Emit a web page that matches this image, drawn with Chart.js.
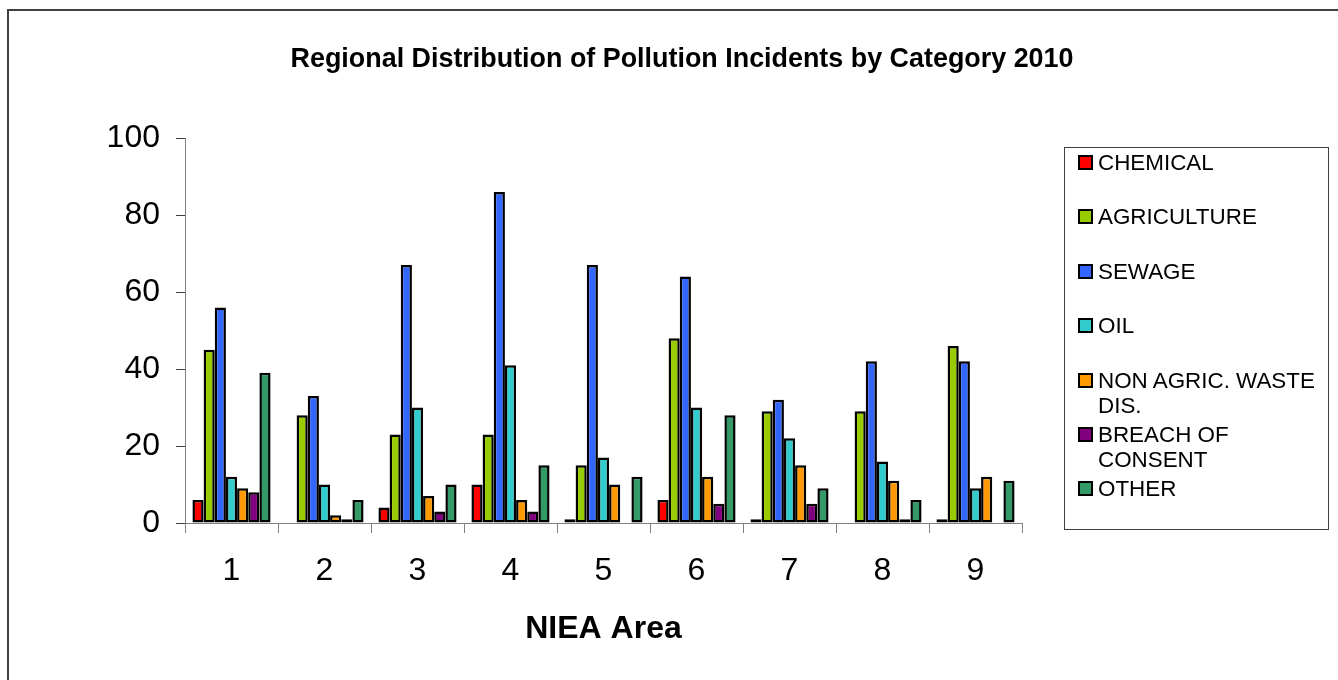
<!DOCTYPE html>
<html>
<head>
<meta charset="utf-8">
<title>Regional Distribution of Pollution Incidents by Category 2010</title>
<script src="https://cdn.jsdelivr.net/npm/chart.js@4/dist/chart.umd.min.js"></script>
<style>
    html, body { margin: 0; padding: 0; background: #fff; overflow: hidden; }
    body { width: 1338px; height: 680px; position: relative; font-family: 'Liberation Sans', Arial, sans-serif; }
    #frame { position: absolute; left: 7px; top: 9px; width: 1400px; height: 740px; border: 2px solid #404040; box-sizing: border-box; }
    #wrap { position: absolute; left: 0; top: 0; width: 1338px; height: 680px; }
    #title { position: absolute; left: 682px; top: 42px; transform: translateX(-50%); white-space: nowrap;
             font-weight: bold; font-size: 26.9px; line-height: 32px; color: #000; }
    #legend { position: absolute; left: 1064px; top: 147px; width: 265px; height: 383px; border: 1px solid #404040;
              box-sizing: border-box; padding-top: 2px; }
    .item { position: relative; height: 54.4px; }
    .item .box { position: absolute; left: 13px; top: 5px; width: 15px; height: 15px; border: 2px solid #000; box-sizing: border-box; }
    .item .txt { position: absolute; left: 33px; top: 0; width: 228px; font-size: 22.4px; line-height: 25px; color: #000; }
</style>
</head>
<body>
<div id="frame"></div>
<div id="wrap"><canvas id="myChart" width="1338" height="680"></canvas></div>
<div id="title">Regional Distribution of Pollution Incidents by Category 2010</div>
<div id="legend"></div>
<script>
var areas = ['1', '2', '3', '4', '5', '6', '7', '8', '9'];
var seriesNames = ['CHEMICAL', 'AGRICULTURE', 'SEWAGE', 'OIL', 'NON AGRIC. WASTE DIS.', 'BREACH OF CONSENT', 'OTHER'];
var chemical    = [6, 0, 4, 10, 1, 6, 1, 0, 1];
var agriculture = [45, 28, 23, 23, 15, 48, 29, 29, 46];
var sewage      = [56, 33, 67, 86, 67, 64, 32, 42, 42];
var oil         = [12, 10, 30, 41, 17, 30, 22, 16, 9];
var nonAgric    = [9, 2, 7, 6, 10, 12, 15, 11, 12];
var breach      = [8, 1, 3, 3, 0, 5, 5, 1, 0];
var other       = [39, 6, 10, 15, 12, 28, 9, 6, 11];
var yTicks = [0, 20, 40, 60, 80, 100];

document.addEventListener('DOMContentLoaded', function() {
    "use strict";

    var seriesData = [chemical, agriculture, sewage, oil, nonAgric, breach, other];
    var colors = ['#FF0000', '#99CC00', '#3366FF', '#33CCCC', '#FF9900', '#800080', '#339966'];

    var datasets = seriesNames.map(function(name, i) {
        return {
            label: name,
            data: seriesData[i],
            backgroundColor: colors[i],
            borderColor: '#000',
            borderWidth: 2.5,
            borderSkipped: false,
            barPercentage: 1,
            categoryPercentage: 0.84
        };
    });

    var ctx = document.getElementById('myChart').getContext('2d');
    new Chart(ctx, {
        type: 'bar',
        data: { labels: areas, datasets: datasets },
        options: {
            responsive: false,
            animation: false,
            layout: { padding: { left: 0, right: 316, top: 138, bottom: 0 } },
            plugins: {
                legend: { display: false },
                title: { display: false },
                tooltip: { enabled: false }
            },
            scales: {
                x: {
                    offset: true,
                    grid: { offset: true, drawOnChartArea: false, tickLength: 10, color: '#808080' },
                    border: { color: '#808080', width: 1 },
                    ticks: {
                        color: '#000',
                        padding: 19,
                        maxRotation: 0,
                        font: { family: "'Liberation Sans', Arial, sans-serif", size: 32, lineHeight: 1.2 }
                    },
                    title: {
                        display: true,
                        text: 'NIEA Area',
                        color: '#000',
                        padding: { top: 0, bottom: 32 },
                        font: { family: "'Liberation Sans', Arial, sans-serif", size: 32, weight: 'bold', lineHeight: 1.2 }
                    },
                    afterFit: function(scale) { scale.height = 157; }
                },
                y: {
                    min: 0,
                    max: 100,
                    afterBuildTicks: function(scale) {
                        scale.ticks = yTicks.map(function(v) { return { value: v }; });
                    },
                    grid: { drawOnChartArea: false, tickLength: 9, color: '#404040' },
                    border: { color: '#808080', width: 1 },
                    ticks: {
                        color: '#000',
                        padding: 16,
                        font: { family: "'Liberation Sans', Arial, sans-serif", size: 32 }
                    },
                    afterFit: function(scale) { scale.width = 185; }
                }
            }
        }
    });

    // legend built from the same series
    var legend = document.getElementById('legend');
    seriesNames.forEach(function(name, i) {
        var item = document.createElement('div');
        item.className = 'item';
        var box = document.createElement('span');
        box.className = 'box';
        box.style.background = colors[i];
        var txt = document.createElement('span');
        txt.className = 'txt';
        txt.textContent = name;
        item.appendChild(box);
        item.appendChild(txt);
        legend.appendChild(item);
    });
});
</script>
</body>
</html>
